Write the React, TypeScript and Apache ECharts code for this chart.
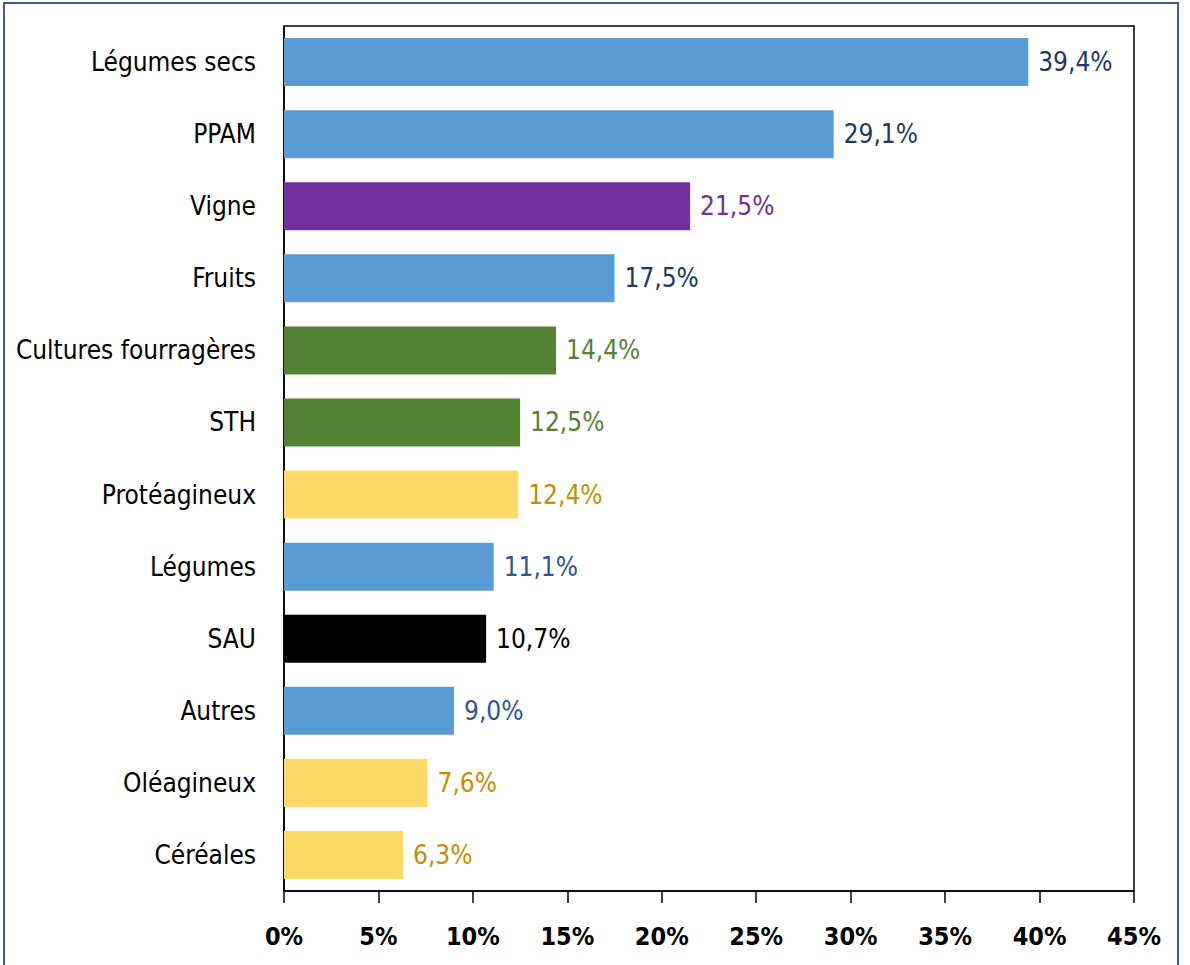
import React, { useEffect, useRef } from "react";
import * as echarts from "echarts";

const categories = [
  "Légumes secs",
  "PPAM",
  "Vigne",
  "Fruits",
  "Cultures fourragères",
  "STH",
  "Protéagineux",
  "Légumes",
  "SAU",
  "Autres",
  "Oléagineux",
  "Céréales",
];
const values = [39.4, 29.1, 21.5, 17.5, 14.4, 12.5, 12.4, 11.1, 10.7, 9.0, 7.6, 6.3];
const barColors = [
  "#5B9BD5", "#5B9BD5", "#7030A0", "#5B9BD5", "#548235", "#548235",
  "#FFD966", "#5B9BD5", "#000000", "#5B9BD5", "#FFD966", "#FFD966",
];
const labelColors = [
  "#203864", "#203864", "#7030A0", "#203864", "#548235", "#548235",
  "#BF9000", "#2F5597", "#000000", "#2F5597", "#BF9000", "#BF9000",
];
const xTicks = [0, 5, 10, 15, 20, 25, 30, 35, 40, 45];

const FONT = "'DejaVu Sans Condensed', 'Liberation Sans Narrow', 'Noto Sans', sans-serif";

export default function App() {
  const ref = useRef<HTMLDivElement>(null);
  useEffect(() => {
    document.body.style.margin = "0";
    const chart = echarts.init(ref.current!, null, { renderer: "svg" });
    chart.setOption({
      animation: false,
      backgroundColor: "#ffffff",
      textStyle: { fontFamily: FONT },
      graphic: [
        {
          type: "rect",
          shape: { x: 4, y: 3, width: 1174, height: 1000 },
          style: { fill: "none", stroke: "#3B5C8F", lineWidth: 2 },
          silent: true,
        },
      ],
      grid: {
        left: 284,
        right: 56,
        top: 26,
        bottom: 74,
        containLabel: false,
        outerBoundsMode: "none",
        show: true,
        borderColor: "#000",
        borderWidth: 1.5,
        backgroundColor: "transparent",
      },
      xAxis: {
        type: "value",
        min: xTicks[0],
        max: xTicks[xTicks.length - 1],
        interval: 5,
        splitLine: { show: false },
        axisLine: { show: true, lineStyle: { color: "#000", width: 1.5 } },
        axisTick: { show: true, inside: false, length: 12, lineStyle: { color: "#000", width: 1.5 } },
        axisLabel: {
          formatter: "{value}%",
          fontSize: 25,
          fontWeight: "bold",
          color: "#000",
          fontFamily: FONT,
          margin: 33,
        },
      },
      yAxis: {
        type: "category",
        inverse: true,
        data: categories,
        axisLine: { show: true, lineStyle: { color: "#000", width: 1.5 } },
        axisTick: { show: false },
        axisLabel: { fontSize: 26, color: "#000", fontFamily: FONT, margin: 28 },
      },
      series: [
        {
          type: "bar",
          barWidth: 48,
          data: values.map((v, i) => ({
            value: v,
            itemStyle: { color: barColors[i] },
            label: { color: labelColors[i] },
          })),
          label: {
            show: true,
            position: "right",
            distance: 10,
            fontSize: 26,
            fontFamily: FONT,
            formatter: (p: any) => p.value.toFixed(1).replace(".", ",") + "%",
          },
        },
      ],
    });
    return () => chart.dispose();
  }, []);
  return <div ref={ref} style={{ width: 1190, height: 965 }} />;
}
